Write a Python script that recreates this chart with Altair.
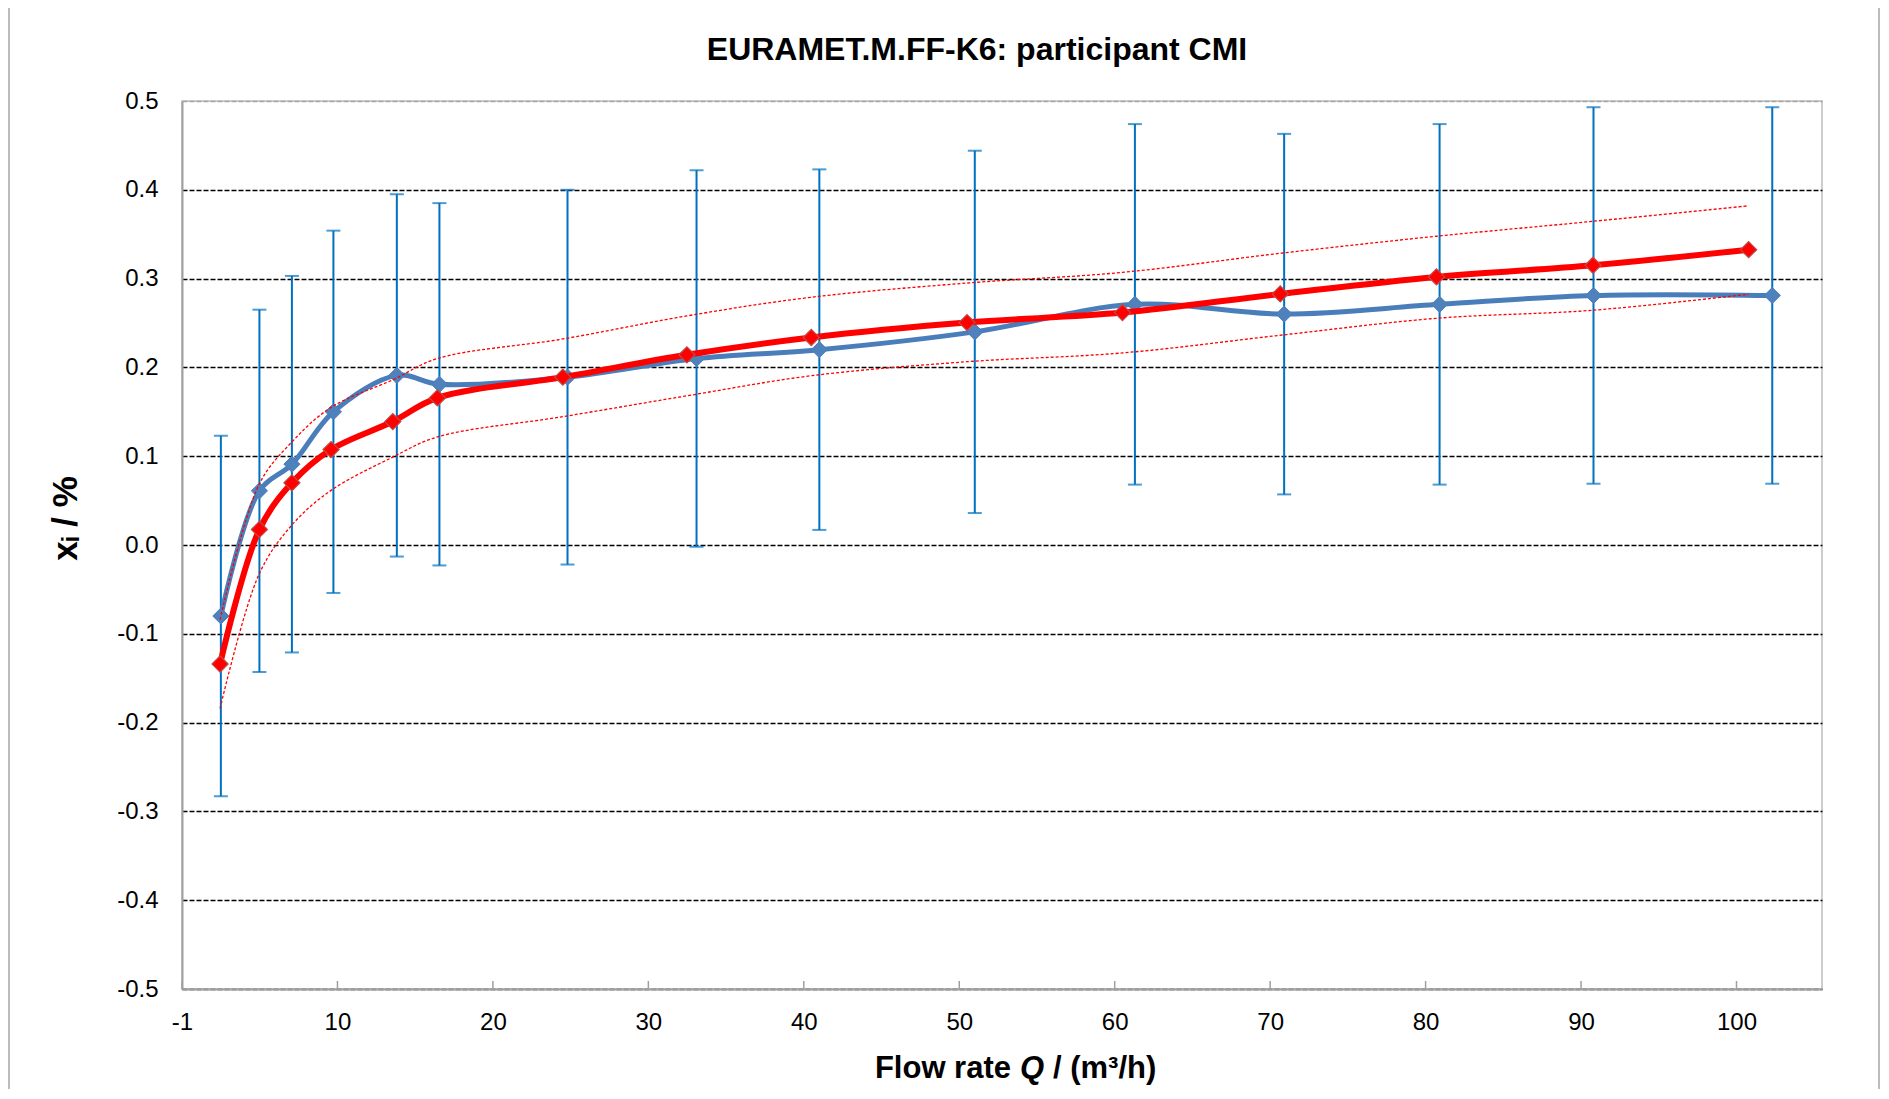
import altair as alt
import pandas as pd

# ---- participant CMI results (flow rate, deviation x_i, expanded uncertainty) ----
cmi_q = [2.0, 4.48, 6.57, 9.24, 13.32, 16.06, 24.3, 32.6, 40.5, 50.5, 60.8, 70.4, 80.4, 90.3, 101.8]
cmi_x = [-0.080, 0.061, 0.091, 0.150, 0.191, 0.181, 0.189, 0.210, 0.220, 0.240, 0.271, 0.260, 0.271, 0.281, 0.281]
cmi_u = [0.203, 0.204, 0.212, 0.204, 0.204, 0.204, 0.211, 0.212, 0.203, 0.204, 0.203, 0.203, 0.203, 0.212, 0.212]

# ---- reference curve and its uncertainty band ----
ref_q = [1.95, 4.48, 6.57, 9.09, 13.06, 15.93, 24.0, 31.98, 39.98, 50.0, 60.0, 70.15, 80.2, 90.27, 100.28]
ref_x = [-0.134, 0.0175, 0.070, 0.1075, 0.139, 0.1656, 0.189, 0.2142, 0.2337, 0.2505, 0.2617, 0.2827, 0.3019, 0.315, 0.3326]
ref_upper = [-0.084, 0.069, 0.116, 0.155, 0.186, 0.210, 0.232, 0.258, 0.279, 0.295, 0.307, 0.3285, 0.3477, 0.3645, 0.382]
ref_lower = [-0.184, -0.032, 0.0225, 0.0615, 0.099, 0.1217, 0.1445, 0.168, 0.1906, 0.2064, 0.2163, 0.2362, 0.2553, 0.2644, 0.2824]

# ---- axis ticks ----
x_tick_values = [-0.5, 9.5, 19.5, 29.5, 39.5, 49.5, 59.5, 69.5, 79.5, 89.5, 99.5]
x_tick_labels = ["-1", "10", "20", "30", "40", "50", "60", "70", "80", "90", "100"]
y_tick_values = [-0.5, -0.4, -0.3, -0.2, -0.1, 0.0, 0.1, 0.2, 0.3, 0.4, 0.5]

# ---- texts ----
chart_title = "EURAMET.M.FF-K6: participant CMI"
x_title_parts = ["Flow rate", "Q", "/ (m³/h)"]
y_title = "xᵢ / %"

FONT = "Liberation Sans"
W, H = 1640, 888

cmi = pd.DataFrame({"q": cmi_q, "x": cmi_x, "u": cmi_u})
cmi["lo"] = cmi["x"] - cmi["u"]
cmi["hi"] = cmi["x"] + cmi["u"]
ref = pd.DataFrame({"q": ref_q, "x": ref_x, "up": ref_upper, "lo": ref_lower})
ticks = pd.DataFrame({"q": x_tick_values})

x_label_expr = ""
for v, l in zip(x_tick_values, x_tick_labels):
    x_label_expr += f"datum.value == {v} ? '{l}' : "
x_label_expr += "''"

xscale = alt.Scale(domain=[-0.5, 105], nice=False, zero=False)
yscale = alt.Scale(domain=[-0.5, 0.5], nice=False, zero=False)

xaxis = alt.Axis(
    values=x_tick_values, labelExpr=x_label_expr, labelFont=FONT, labelFontSize=24,
    labelColor="black", labelPadding=21, labelFlush=False, ticks=False, tickSize=0,
    domainColor="#A0A0A0", domainWidth=2, grid=False, title="",
)
yaxis = alt.Axis(
    values=y_tick_values, labelExpr="replace(format(datum.value, '.1f'), '\u2212', '-')",
    labelFont=FONT, labelFontSize=24, labelColor="black", labelPadding=24,
    ticks=False, tickSize=0, domainColor="#A0A0A0", domainWidth=2,
    grid=True, gridDash=[5, 2], gridWidth=1.3,
    gridColor={"condition": {"test": "datum.value > 0.45", "value": "#A6A6A6"}, "value": "#000000"},
    title=y_title, titleFont=FONT, titleFontSize=35, titleFontWeight="bold", titleColor="black",
    titleAngle=270, titleX=-106, titleY=417, titleBaseline="alphabetic", titleAlign="center",
)

X = lambda f: alt.X(f, type="quantitative", scale=xscale, axis=xaxis)
Y = lambda f: alt.Y(f, type="quantitative", scale=yscale, axis=yaxis)

one = alt.Data(values=[{"k": 1}])

frame = alt.Chart(one).mark_rect(
    fill=None, stroke="#A6A6A6", strokeWidth=1.5
).encode(x=alt.value(-173), x2=alt.value(1697), y=alt.value(-94), y2=alt.value(1200))

title_mark = alt.Chart(one).mark_text(
    text=chart_title, font=FONT, fontSize=32, fontWeight="bold", color="black",
    align="center", baseline="alphabetic"
).encode(x=alt.value(795), y=alt.value(-41))

xt1 = alt.Chart(one).mark_text(
    text=x_title_parts[0], font=FONT, fontSize=31, fontWeight="bold", color="black",
    align="right", baseline="alphabetic"
).encode(x=alt.value(829), y=alt.value(H + 89))
xt2 = alt.Chart(one).mark_text(
    text=x_title_parts[1], font=FONT, fontSize=31, fontWeight="bold", fontStyle="italic",
    color="black", align="left", baseline="alphabetic"
).encode(x=alt.value(838), y=alt.value(H + 89))
xt3 = alt.Chart(one).mark_text(
    text=x_title_parts[2], font=FONT, fontSize=31, fontWeight="bold", color="black",
    align="left", baseline="alphabetic"
).encode(x=alt.value(871), y=alt.value(H + 89))

base_c = alt.Chart(cmi)
err = base_c.mark_rule(color="#0070C0", strokeWidth=2).encode(x=X("q"), y=Y("lo"), y2="hi")
cap_lo = base_c.mark_tick(orient="horizontal", size=14, thickness=2, color="#0070C0").encode(x=X("q"), y=Y("lo"))
cap_hi = base_c.mark_tick(orient="horizontal", size=14, thickness=2, color="#0070C0").encode(x=X("q"), y=Y("hi"))
cmi_line = base_c.mark_line(color="#4A7EBB", strokeWidth=5, interpolate="catmull-rom").encode(x=X("q"), y=Y("x"))
cmi_pts = base_c.mark_point(shape="diamond", filled=True, size=260, fill="#4F81BD",
                            stroke="#4A7EBB", strokeWidth=1, opacity=1).encode(x=X("q"), y=Y("x"))

base_r = alt.Chart(ref)
ref_line = base_r.mark_line(color="#FF0000", strokeWidth=6, interpolate="catmull-rom").encode(x=X("q"), y=Y("x"))
ref_pts = base_r.mark_point(shape="diamond", filled=True, size=260, fill="#FF0000",
                            stroke="#BE4B48", strokeWidth=1.2, opacity=1).encode(x=X("q"), y=Y("x"))
ref_up = base_r.mark_line(color="#FF0000", strokeWidth=1.3, strokeDash=[3, 2],
                          interpolate="catmull-rom").encode(x=X("q"), y=Y("up"))
ref_lo = base_r.mark_line(color="#FF0000", strokeWidth=1.3, strokeDash=[3, 2],
                          interpolate="catmull-rom").encode(x=X("q"), y=Y("lo"))

inticks = alt.Chart(ticks).mark_rule(color="#A0A0A0", strokeWidth=1.5).encode(
    x=X("q"), y=alt.value(H - 8), y2=alt.value(H)
)

chart = alt.layer(
    frame, err, cap_lo, cap_hi, cmi_line, cmi_pts, ref_line, ref_pts, ref_up, ref_lo, inticks,
    title_mark, xt1, xt2, xt3
).properties(
    width=W, height=H,
    autosize=alt.AutoSizeParams(type="none"),
    padding={"left": 174, "top": 93, "right": 59, "bottom": 100},
    background="white",
).configure_view(stroke="#BFBFBF", strokeWidth=1.5)

chart.save("out.html", embed_options={"renderer": "svg", "actions": False})
